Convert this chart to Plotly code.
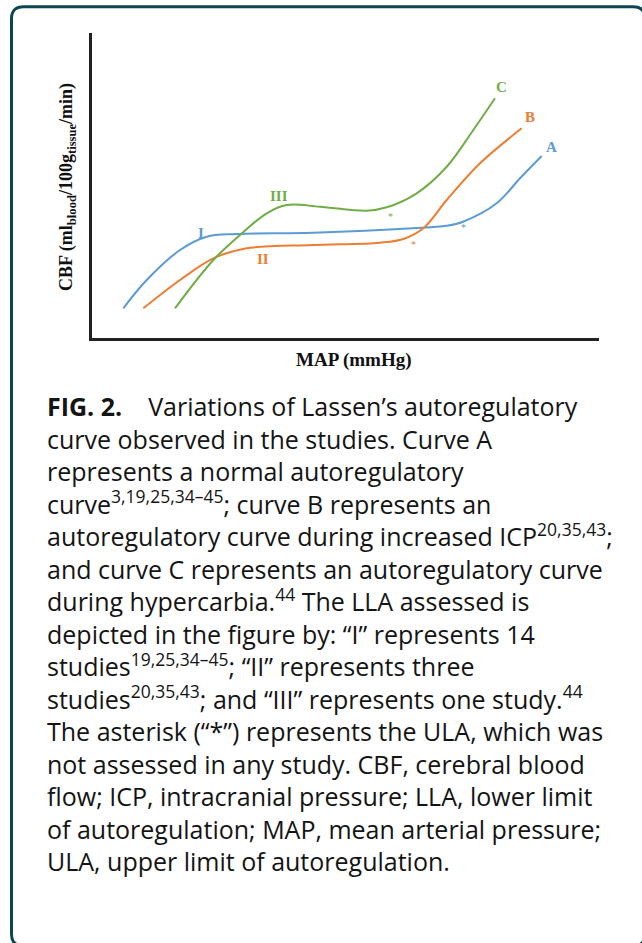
import plotly.graph_objects as go

W, H = 642, 943

# ---- data (x: MAP, arbitrary 0-100 units; y: CBF, arbitrary 0-100 units) ----
curve_a_x = [6.17, 10.79, 17.36, 22.62, 28.54, 43.59, 63.31, 69.96, 73.18, 79.82, 84.42, 88.70]
curve_a_y = [9.74, 19.02, 28.85, 33.21, 34.10, 34.52, 35.97, 36.82, 38.13, 44.16, 52.36, 59.67]

curve_b_x = [10.12, 17.36, 23.93, 30.51, 43.59, 56.80, 61.40, 65.35, 69.96, 76.53, 84.75]
curve_b_y = [9.74, 19.02, 26.13, 29.41, 30.49, 31.25, 32.46, 35.97, 45.25, 57.28, 68.75]

curve_c_x = [16.37, 23.93, 29.19, 34.46, 38.40, 44.97, 54.18, 58.13, 64.04, 69.96, 75.21, 79.49]
curve_c_y = [9.74, 25.57, 33.77, 40.89, 43.61, 43.05, 41.74, 42.85, 47.44, 56.16, 68.20, 78.59]

curve_names = ["A", "B", "C"]
curve_label_x = [90.67, 86.39, 80.81]
curve_label_y = [62.72, 72.56, 82.39]

lla_labels = ["I", "II", "III"]
lla_x = [21.50, 33.79, 36.88]
lla_y = [34.52, 25.90, 46.66]

ula_x = [73.23, 63.37, 58.78]
ula_y = [37.05, 31.57, 40.66]

colors = ["#5b9bd5", "#ed7d31", "#70ad47"]

y_title = "CBF (ml<sub>blood</sub>/100g<sub>tissue</sub>/min)"
x_title = "MAP (mmHg)"

caption_head = "FIG. 2."
caption_lines = [
    "Variations of Lassen’s autoregulatory",
    "curve observed in the studies. Curve A",
    "represents a normal autoregulatory",
    "curve<sup>3,19,25,34–45</sup>; curve B represents an",
    "autoregulatory curve during increased ICP<sup>20,35,43</sup>;",
    "and curve C represents an autoregulatory curve",
    "during hypercarbia.<sup>44</sup> The LLA assessed is",
    "depicted in the figure by: “I” represents 14",
    "studies<sup>19,25,34–45</sup>; “II” represents three",
    "studies<sup>20,35,43</sup>; and “III” represents one study.<sup>44</sup>",
    "The asterisk (“*”) represents the ULA, which was",
    "not assessed in any study. CBF, cerebral blood",
    "flow; ICP, intracranial pressure; LLA, lower limit",
    "of autoregulation; MAP, mean arterial pressure;",
    "ULA, upper limit of autoregulation.",
]


def px(x):
    return x / W


def py(y):
    return 1 - y / H


fig = go.Figure()
for xs, ys, c in zip([curve_a_x, curve_b_x, curve_c_x],
                     [curve_a_y, curve_b_y, curve_c_y], colors):
    fig.add_trace(go.Scatter(x=xs, y=ys, mode="lines",
                             line=dict(color=c, width=2, shape="spline", smoothing=1.0),
                             hoverinfo="skip", showlegend=False))

serif = "Liberation Serif"
ann = []
for name, x, y, c in zip(curve_names, curve_label_x, curve_label_y, colors):
    ann.append(dict(x=x, y=y, xref="x", yref="y", text=f"<b>{name}</b>", showarrow=False,
                    xanchor="center", yanchor="middle",
                    font=dict(family=serif, size=15, color=c)))
for name, x, y, c in zip(lla_labels, lla_x, lla_y, colors):
    ann.append(dict(x=x, y=y, xref="x", yref="y", text=f"<b>{name}</b>", showarrow=False,
                    xanchor="center", yanchor="middle",
                    font=dict(family=serif, size=15, color=c)))
for x, y, c in zip(ula_x, ula_y, colors):
    ann.append(dict(x=x, y=y, xref="x", yref="y", text="*", showarrow=False, yshift=-3,
                    xanchor="center", yanchor="middle",
                    font=dict(family=serif, size=10, color=c)))

ann.append(dict(x=px(67), y=py(187), xref="paper", yref="paper", text=f"<b>{y_title}</b>",
                textangle=-90, showarrow=False, xanchor="center", yanchor="middle",
                font=dict(family=serif, size=18, color="#111")))
ann.append(dict(x=px(354), y=py(360), xref="paper", yref="paper", text=f"<b>{x_title}</b>",
                showarrow=False, xanchor="center", yanchor="middle",
                font=dict(family=serif, size=19, color="#111")))

# caption: one text block (plotly line spacing = 1.3 x font size ~ 32.5 px)
cap_size = 25
cap_font = dict(family="Open Sans", size=cap_size, color="#141414")
gap = "\u00a0" * 4
caption_text = "<br>".join([f"<b>{caption_head}</b>{gap}{caption_lines[0]}"] + caption_lines[1:])
mid_line = 410 + 7 * 32.4          # x-height centre of the middle (8th) line
ann.append(dict(x=px(45), y=py(mid_line - 0.12 * cap_size), xref="paper", yref="paper",
                text=caption_text, align="left", xanchor="left", yanchor="middle",
                showarrow=False, font=cap_font))

# rounded frame
L, R, T, B, r = 11.5, 645, 6.7, 946, 12
path = (f"M {px(L + r)} {py(T)} L {px(R - r)} {py(T)} Q {px(R)} {py(T)} {px(R)} {py(T + r)} "
        f"L {px(R)} {py(B - r)} Q {px(R)} {py(B)} {px(R - r)} {py(B)} "
        f"L {px(L + r)} {py(B)} Q {px(L)} {py(B)} {px(L)} {py(B - r)} "
        f"L {px(L)} {py(T + r)} Q {px(L)} {py(T)} {px(L + r)} {py(T)} Z")

fig.update_layout(
    width=W, height=H, margin=dict(l=0, r=0, t=0, b=0),
    paper_bgcolor="white", plot_bgcolor="white",
    xaxis=dict(domain=[px(92), px(599)], range=[0, 100], showline=True, linewidth=3,
               linecolor="#222", showticklabels=False, ticks="", showgrid=False, zeroline=False),
    yaxis=dict(domain=[py(338), py(33)], range=[0, 100], showline=True, linewidth=3,
               linecolor="#222", showticklabels=False, ticks="", showgrid=False, zeroline=False),
    annotations=ann,
    shapes=[dict(type="path", path=path, xref="paper", yref="paper",
                 line=dict(color="#0d4651", width=3), layer="above")],
)

fig.write_html("out.html", config={"displayModeBar": False},
               post_script="document.body.style.margin='0';document.body.style.overflow='hidden';")
